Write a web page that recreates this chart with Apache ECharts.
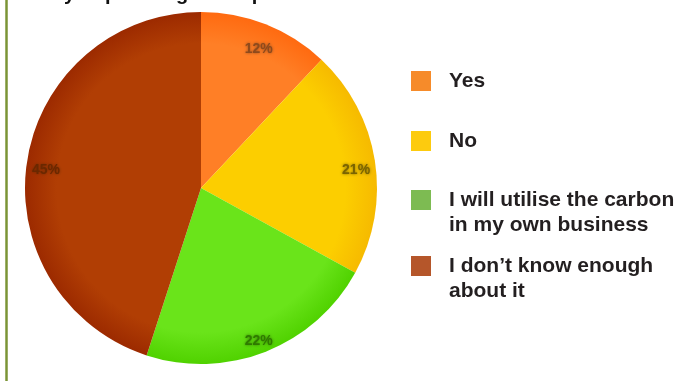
<!DOCTYPE html>
<html>
<head>
<meta charset="utf-8">
<script src="https://cdn.jsdelivr.net/npm/echarts@6/dist/echarts.min.js"></script>
<style>
  html, body { margin: 0; padding: 0; background: #ffffff; }
  #chart { width: 685px; height: 381px; }
</style>
</head>
<body>
<div id="chart"></div>
<script>
// Survey answers and their shares (percent)
const answers = [
  'Yes',
  'No',
  'I will utilise the carbon\nin my own business',
  'I don\u2019t know enough\nabout it'
];
const shares = [12, 21, 22, 45];

// Slice fills: inner tone / rim tone, plus the flat legend swatch
const innerColors = ['#ff7f26', '#fcce00', '#6ae41a', '#b13e04'];
const rimColors   = ['#ff6a10', '#f6ba00', '#50d200', '#9c2a00'];
const swatchColors = ['#f68b2a', '#fdcb0e', '#7dbb52', '#b5562a'];
const labelColors = ['#8e4a1c', '#7a6400', '#2f7a00', '#6a2800'];

// Vertical offsets of each legend entry
const legendTops = [68.5, 128.5, 162.5, 228.5];

const cx = 201, cy = 188, R = 176;

function sliceFill(i) {
  return {
    type: 'radial', x: cx, y: cy, r: R, global: true,
    colorStops: [
      { offset: 0, color: innerColors[i] },
      { offset: 0.82, color: innerColors[i] },
      { offset: 1, color: rimColors[i] }
    ]
  };
}

const chart = echarts.init(document.getElementById('chart'), null, { renderer: 'canvas' });

const legendFont = '"Liberation Sans", Arial, sans-serif';

const option = {
  backgroundColor: '#ffffff',
  animation: false,
  legend: answers.map((name, i) => ({
    data: [{ name: name, itemStyle: { color: swatchColors[i] } }],
    left: 411,
    top: legendTops[i],
    orient: 'vertical',
    padding: 0,
    icon: 'rect',
    itemWidth: 20,
    itemHeight: 20,
    selectedMode: false,
    // two-line entries get a blank leading line so the first line sits beside the swatch
    formatter: n => (n.indexOf('\n') >= 0 ? '\n' + n : n),
    textStyle: {
      fontFamily: legendFont,
      fontSize: 21,
      fontWeight: 'bold',
      color: '#231f20',
      lineHeight: 25,
      padding: [0, 0, 0, 13]
    }
  })),
  graphic: [
    {
      type: 'line',
      shape: { x1: 6.5, y1: 0, x2: 6.5, y2: 381 },
      style: { stroke: '#7b9436', lineWidth: 2.5 },
      silent: true
    },
    {
      type: 'text',
      x: 25,
      y: 4,
      style: {
        text: 'Are you planning to keep or sell the carbon?',
        font: 'bold 20px "Liberation Sans", Arial, sans-serif',
        fill: '#111111',
        verticalAlign: 'bottom'
      },
      silent: true
    }
  ],
  series: [
    {
      type: 'pie',
      center: [cx, cy],
      radius: [0, R],
      startAngle: 90,
      clockwise: true,
      silent: true,
      label: { show: false },
      labelLine: { show: false },
      data: answers.map((name, i) => ({
        name: name,
        value: shares[i],
        itemStyle: { color: sliceFill(i) }
      }))
    },
    {
      // percentage labels placed near the rim
      type: 'pie',
      center: [cx, cy + 7],
      radius: [R - 46, R + 2],
      startAngle: 90,
      clockwise: true,
      silent: true,
      itemStyle: { color: 'rgba(0,0,0,0)' },
      labelLine: { show: false },
      label: {
        show: true,
        position: 'inside',
        formatter: p => p.value + '%',
        fontFamily: legendFont,
        fontSize: 14,
        fontWeight: 'bold',
        textBorderWidth: 0
      },
      data: answers.map((name, i) => ({
        name: name,
        value: shares[i],
        label: { color: labelColors[i], textShadowColor: labelColors[i], textShadowBlur: 3 }
      }))
    }
  ]
};

chart.setOption(option);
</script>
</body>
</html>
